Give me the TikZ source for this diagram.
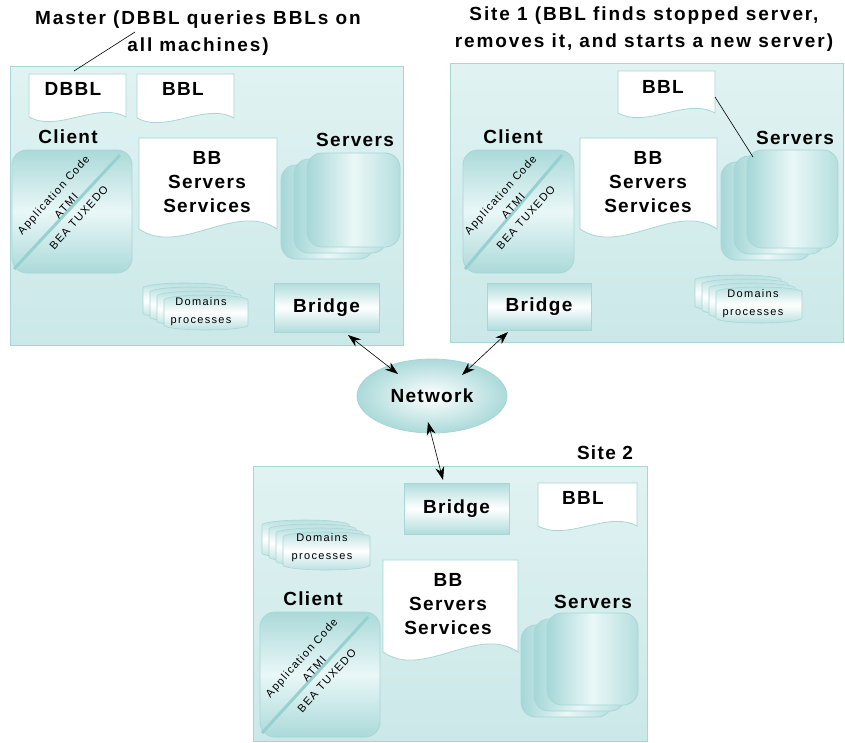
\documentclass[tikz,border=0pt]{standalone}
\usepackage{fontspec}
\setmainfont{Liberation Sans}
\newfontfamily\lblfont[LetterSpace=7]{Liberation Sans}
\newfontfamily\ttlfont[LetterSpace=10]{Liberation Sans}
\newfontfamily\smlfont[LetterSpace=12]{Liberation Sans}
\usetikzlibrary{arrows.meta,shapes.geometric}
\definecolor{tealA}{RGB}{150,208,208}
\definecolor{tealB}{RGB}{203,232,232}
\definecolor{tealL}{RGB}{234,247,247}
\definecolor{edgec}{RGB}{168,214,214}
\tikzset{
  site/.style={draw=edgec, line width=1pt, top color=tealL!70!tealB, bottom color=tealB, inner sep=0pt, outer sep=0pt},
  doc/.style={draw=edgec, fill=white, line width=0.8pt},
  lbl/.style={font=\lblfont\bfseries\fontsize{19}{24}\selectfont, inner sep=0pt, align=center},
  ttl/.style={font=\ttlfont\bfseries\fontsize{19}{27}\selectfont, inner sep=0pt, align=center},
  sml/.style={font=\smlfont\fontsize{11}{18}\selectfont, inner sep=0pt, align=center},
  rot/.style={font=\smlfont\fontsize{11}{17}\selectfont, inner sep=0pt, align=center, rotate=48},
  bridgebox/.style={draw=edgec, line width=0.8pt, top color=tealA!75, bottom color=tealA!75, middle color=white, inner sep=0pt, outer sep=0pt, font=\lblfont\bfseries\fontsize{19}{24}\selectfont},
  clientbox/.style={draw=edgec, line width=0.8pt, rounded corners=15pt, top color=tealA!80, bottom color=tealA!80, middle color=tealL, inner sep=0pt, outer sep=0pt},
  srv/.style={draw=edgec, line width=0.8pt, rounded corners=15pt, left color=tealA!85, right color=tealA!70, middle color=tealL},
  cyl/.style={draw=edgec, line width=0.6pt, top color=tealA!65, bottom color=tealA!65, middle color=white},
  diag/.style={draw=tealA, line width=3pt},
  arr/.style={black, line width=0.6pt, {Stealth[length=13pt,width=9pt]}-{Stealth[length=13pt,width=9pt]}},
  leader/.style={black, line width=0.6pt},
  netnode/.style={ellipse, draw=edgec, line width=0.8pt, inner color=white, outer color=tealA!80, minimum width=150pt, minimum height=74pt, inner sep=0pt, font=\lblfont\bfseries\fontsize{19}{24}\selectfont}
}
% document shape: x1 y1 x2 yb wave
\newcommand\DocShape[5]{%
  \draw[doc] (#1,#2) -- (#3,#2) -- (#3,#4) .. controls ({#3-0.3*(#3-#1)},{#4-#5}) and ({#1+0.3*(#3-#1)},{#4+#5}) .. (#1,#4) -- cycle;}
% server stack: x y w h of front layer
\newcommand\SrvStack[4]{%
  \foreach \k in {2,1,0}{\draw[srv] ({#1-13*\k},{#2+6*\k}) rectangle ++(#3,#4);}}
% cylinder: x y w h
\newcommand\OneCyl[4]{%
  \draw[cyl] (#1,#2+5) -- (#1,#2+#4-5) arc[start angle=180,end angle=0,x radius=#3/2,y radius=5] -- (#1+#3,#2+5) arc[start angle=0,end angle=-180,x radius=#3/2,y radius=5] -- cycle;}
\newcommand\CylStack[4]{%
  \foreach \k [evaluate=\k as \cx using #1+7*\k, evaluate=\k as \cy using #2+4*\k] in {0,1,2,3}{\OneCyl{\cx}{\cy}{#3}{#4}}}

\begin{document}
\begin{tikzpicture}[x=1pt,y=-1pt]
\useasboundingbox (0,0) rectangle (845,742);

% ================= MASTER =================
\node[site, minimum width=393pt, minimum height=279pt] (master) at (206.5,205.5) {};
\node[ttl] (mtitle) at (198,33.5) {Master (DBBL queries BBLs on\\all machines)};
\DocShape{29}{74}{126}{117}{16}
\node[lbl] (dbbl) at (73,89) {DBBL};
\DocShape{137}{74}{234}{118}{16}
\node[lbl] (mbbl) at (183,89) {BBL};
\node[lbl] (mclientl) at (68,137) {Client};
\node[clientbox, minimum width=120pt, minimum height=123pt] (mclient) at (72,211.5) {};
\draw[diag] ([shift={(-12,5)}]mclient.north east) -- ([shift={(2,-4)}]mclient.south west);
\node[rot] (mcode) at (66,206) {Application Code\\ATMI\\BEA TUXEDO};
\DocShape{139}{138}{277}{229}{28}
\node[lbl] (mbb) at (207,182) {BB\\Servers\\Services};
\node[lbl] (msrvl) at (355,140) {Servers};
\SrvStack{307}{153}{93}{94}
\CylStack{143}{283}{84}{35}
\node[sml] (mdom) at (201,312) {Domains\\processes};
\node[bridgebox, minimum width=105pt, minimum height=49pt] (mbridge) at (326.5,307.5) {Bridge};
\coordinate (mtline) at (135,32);
\coordinate (dbbltop) at (74,71);
\draw[leader] (mtline) -- (dbbltop);

% ================= SITE 1 =================
\node[site, minimum width=393pt, minimum height=279pt] (site1) at (646.5,202.5) {};
\node[ttl] (s1title) at (644,29) {Site 1 (BBL finds stopped server,\\removes it, and starts a new server)};
\DocShape{618}{71}{715}{113}{16}
\node[lbl] (s1bbl) at (663,87) {BBL};
\node[lbl] (s1clientl) at (513,137) {Client};
\node[clientbox, minimum width=111pt, minimum height=123pt] (s1client) at (518.5,211.5) {};
\draw[diag] ([shift={(-12,5)}]s1client.north east) -- ([shift={(2,-4)}]s1client.south west);
\node[rot] (s1code) at (513,206) {Application Code\\ATMI\\BEA TUXEDO};
\DocShape{580}{138}{717}{229}{28}
\node[lbl] (s1bb) at (648,182) {BB\\Servers\\Services};
\node[lbl] (s1srvl) at (795,138) {Servers};
\SrvStack{747}{150}{91}{98}
\CylStack{695}{275}{86}{36}
\node[sml] (s1dom) at (753,304) {Domains\\processes};
\node[bridgebox, minimum width=104pt, minimum height=47pt] (s1bridge) at (539,306.5) {Bridge};
\coordinate (s1bblr) at (715,97);
\coordinate (s1srv) at (753,157);
\draw[leader] (s1bblr) -- (s1srv);

% ================= NETWORK =================
\node[netnode] (net) at (432,396) {Network};

% ================= SITE 2 =================
\node[lbl] (s2title) at (605,453) {Site 2};
\node[site, minimum width=394pt, minimum height=275pt] (site2) at (450,603.5) {};
\node[bridgebox, minimum width=105pt, minimum height=51pt] (s2bridge) at (456.5,508.5) {Bridge};
\DocShape{538}{483}{637}{526}{16}
\node[lbl] (s2bbl) at (583,498) {BBL};
\CylStack{262}{520}{87}{38}
\node[sml] (s2dom) at (322,548) {Domains\\processes};
\DocShape{383}{560}{518}{652}{28}
\node[lbl] (s2bb) at (448,604) {BB\\Servers\\Services};
\node[lbl] (s2clientl) at (313,599) {Client};
\node[clientbox, minimum width=120pt, minimum height=125pt] (s2client) at (320,674.5) {};
\draw[diag] ([shift={(-12,5)}]s2client.north east) -- ([shift={(2,-4)}]s2client.south west);
\node[rot] (s2code) at (314,669) {Application Code\\ATMI\\BEA TUXEDO};
\node[lbl] (s2srvl) at (593,602) {Servers};
\SrvStack{547}{613}{91}{92}

% ================= CONNECTORS =================
\coordinate (ma) at (348,335);
\coordinate (na) at (398,374);
\coordinate (sa) at (508,332);
\coordinate (nb) at (462,375);
\coordinate (nc) at (428,422);
\coordinate (s2a) at (443,480);
\draw[arr] (ma) -- (na);
\draw[arr] (sa) -- (nb);
\draw[arr] (nc) -- (s2a);
\end{tikzpicture}
\end{document}
